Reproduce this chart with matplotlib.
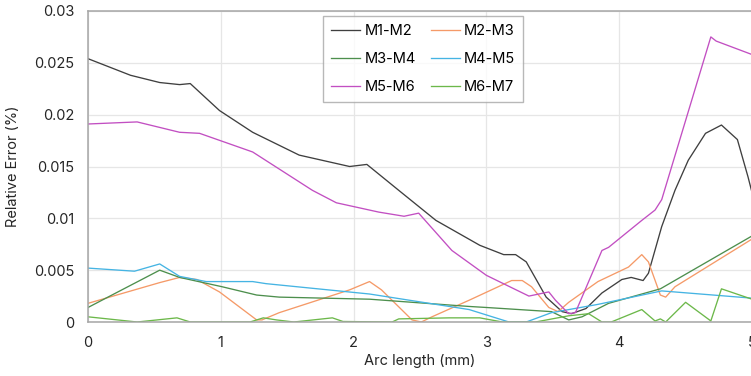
import matplotlib
matplotlib.use("Agg")
import matplotlib.pyplot as plt
from matplotlib.ticker import FuncFormatter

# Relative error (value x 1e-3) per pair of mirrors
x_m1m2 = [0, 0.32, 0.54, 0.69, 0.77, 0.99, 1.24, 1.59, 1.97, 2.1, 2.34, 2.62, 2.95,
          3.13, 3.22, 3.30, 3.45, 3.57, 3.64, 3.75, 3.87, 4.02, 4.09, 4.18, 4.22,
          4.32, 4.42, 4.52, 4.65, 4.77, 4.89, 4.97, 5.0]
y_m1m2 = [25.4, 23.8, 23.1, 22.9, 23.0, 20.4, 18.3, 16.1, 15.0, 15.2, 12.7, 9.8, 7.4,
          6.5, 6.5, 5.8, 2.4, 1.0, 0.8, 1.3, 2.8, 4.1, 4.3, 4.0, 4.7,
          9.2, 12.7, 15.6, 18.2, 19.0, 17.6, 14.0, 12.5]

x_m2m3 = [0, 0.54, 0.69, 0.82, 0.99, 1.27, 1.31, 1.44, 1.97, 2.12, 2.21, 2.44, 2.51,
          2.59, 2.87, 3.19, 3.27, 3.34, 3.47, 3.54, 3.62, 3.84, 4.07, 4.17, 4.22,
          4.31, 4.35, 4.42, 5.0]
y_m2m3 = [1.8, 3.8, 4.3, 4.1, 2.9, 0.2, 0.2, 0.9, 3.1, 3.9, 3.1, 0.2, 0.0,
          0.5, 2.1, 4.0, 4.0, 3.4, 1.4, 1.0, 1.9, 3.9, 5.3, 6.5, 5.8,
          2.6, 2.4, 3.4, 8.0]

x_m3m4 = [0, 0.54, 0.69, 1.01, 1.27, 1.44, 2.12, 2.87, 3.0, 3.49, 3.62, 3.72, 3.92, 4.31, 5.0]
y_m3m4 = [1.4, 5.0, 4.3, 3.4, 2.6, 2.4, 2.2, 1.5, 1.4, 1.0, 0.2, 0.5, 1.8, 3.2, 8.3]

x_m4m5 = [0, 0.35, 0.54, 0.69, 0.89, 1.24, 1.34, 2.12, 2.87, 3.17, 3.3, 3.49, 3.84, 4.32, 5.0]
y_m4m5 = [5.2, 4.9, 5.6, 4.4, 3.9, 3.9, 3.7, 2.7, 1.2, 0.0, 0.0, 0.9, 1.7, 3.0, 2.3]

x_m5m6 = [0, 0.37, 0.69, 0.84, 1.24, 1.69, 1.87, 2.19, 2.38, 2.49, 2.74, 3.0, 3.32,
          3.47, 3.52, 3.62, 3.67, 3.87, 3.92, 4.17, 4.27, 4.32, 4.69, 4.73, 5.0]
y_m5m6 = [19.1, 19.3, 18.3, 18.2, 16.4, 12.7, 11.5, 10.6, 10.2, 10.5, 6.9, 4.5, 2.5,
          2.9, 2.1, 0.8, 0.9, 6.9, 7.2, 9.8, 10.8, 11.8, 27.5, 27.1, 25.8]

x_m6m7 = [0, 0.37, 0.67, 0.77, 1.22, 1.32, 1.42, 1.55, 1.84, 1.92, 2.29, 2.34, 2.72,
          2.95, 3.12, 3.37, 3.62, 3.77, 3.87, 3.94, 4.17, 4.27, 4.31, 4.35, 4.5,
          4.69, 4.77, 5.0]
y_m6m7 = [0.5, 0.0, 0.4, 0.0, 0.0, 0.4, 0.2, 0.0, 0.4, 0.05, 0.0, 0.3, 0.4,
          0.4, 0.0, 0.0, 0.6, 0.8, 0.0, 0.0, 1.2, 0.1, 0.3, 0.0, 1.9,
          0.1, 3.2, 2.2]

series = [
    ("M1-M2", x_m1m2, y_m1m2, "#3f3f3f"),
    ("M2-M3", x_m2m3, y_m2m3, "#f59a68"),
    ("M3-M4", x_m3m4, y_m3m4, "#4d8f4d"),
    ("M4-M5", x_m4m5, y_m4m5, "#45b4e3"),
    ("M5-M6", x_m5m6, y_m5m6, "#c24fc2"),
    ("M6-M7", x_m6m7, y_m6m7, "#6cb84a"),
]

plt.rcParams['font.family'] = ['Inter', 'DejaVu Sans']

fig = plt.figure(figsize=(7.51, 3.76), dpi=100)
# plot area runs slightly past the right edge, as in the cropped original
ax = fig.add_axes([88 / 751, 54 / 376, 664 / 751, 311 / 376])

lines = {}
for name, xs, ys, col in series:
    lines[name], = ax.plot(xs, [v / 1000 for v in ys], color=col, lw=0.95, label=name)

ax.set_xlim(0, 5)
ax.set_ylim(0, 0.03)
ax.set_xticks([0, 1, 2, 3, 4, 5])
ax.set_yticks([0, 0.005, 0.01, 0.015, 0.02, 0.025, 0.03])
ax.yaxis.set_major_formatter(FuncFormatter(lambda v, p: f"{v:g}"))
ax.tick_params(length=0, labelsize=10.5, colors="#262626", pad=10)
ax.grid(True, color="#e6e6e6", lw=0.9)
ax.set_axisbelow(True)
for s in ax.spines.values():
    s.set_color("#a6a6a6")
    s.set_linewidth(1.1)
    s.set_clip_on(False)

ax.set_xlabel("Arc length (mm)", fontsize=10.5, color="#262626", labelpad=3)
ax.set_ylabel("Relative Error (%)", fontsize=10.5, color="#262626", labelpad=10)

order = ["M1-M2", "M3-M4", "M5-M6", "M2-M3", "M4-M5", "M6-M7"]
leg = ax.legend([lines[k] for k in order], order, ncol=2, loc="upper left",
                bbox_to_anchor=(235 / 664, 306 / 311), borderaxespad=0,
                fontsize=10.5, frameon=True, fancybox=False, edgecolor="#a6a6a6",
                handlelength=2.0, columnspacing=1.0, labelspacing=0.95,
                handletextpad=0.3, borderpad=0.55)
leg.get_frame().set_linewidth(1.0)

fig.savefig("out.png", dpi=100)
